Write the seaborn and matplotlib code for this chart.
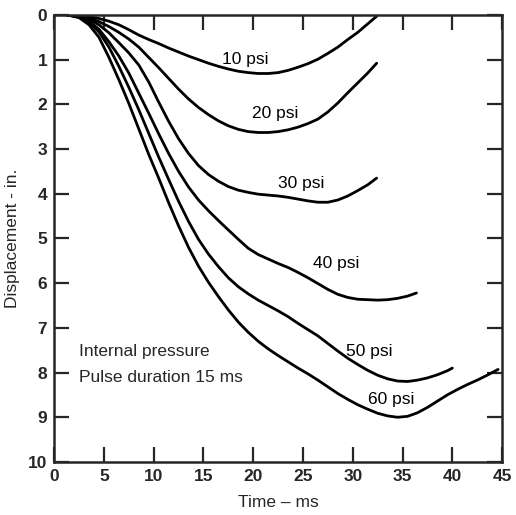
import pandas as pd
import matplotlib
matplotlib.use("Agg")
import matplotlib.pyplot as plt
import seaborn as sns

# Curvas (tempo em ms, deslocamento em polegadas)
t_10 = [1.3, 2.5, 3.5, 4.5, 5.5, 6.5, 7.5, 8.5, 9.5, 10.5, 11.5, 12.5, 13.5, 14.5, 15.5, 16.5,
        17.5, 18.5, 19.5, 20.5, 21.5, 22.5, 23.5, 24.5, 25.5, 26.5, 27.5, 28.5, 29.5, 30.5, 31.5, 32.4]
d_10 = [0, 0.01, 0.04, 0.08, 0.14, 0.22, 0.33, 0.45, 0.55, 0.64, 0.74, 0.83, 0.92, 1.0, 1.08, 1.15,
        1.21, 1.26, 1.29, 1.31, 1.31, 1.29, 1.24, 1.17, 1.09, 0.99, 0.86, 0.72, 0.55, 0.39, 0.2, 0.03]

t_20 = [1.3, 2.5, 3.5, 4.5, 5.5, 6.5, 7.5, 8.5, 9.5, 10.5, 11.5, 12.5, 13.5, 14.5, 15.5, 16.5,
        17.5, 18.5, 19.5, 20.5, 21.5, 22.5, 23.5, 24.5, 25.5, 26.5, 27.5, 28.5, 29.5, 30.5, 31.5, 32.4]
d_20 = [0, 0.02, 0.07, 0.15, 0.26, 0.39, 0.54, 0.72, 0.95, 1.18, 1.42, 1.66, 1.88, 2.07, 2.23, 2.37,
        2.48, 2.56, 2.61, 2.63, 2.63, 2.61, 2.57, 2.51, 2.43, 2.33, 2.17, 1.97, 1.74, 1.52, 1.3, 1.08]

t_30 = [1.3, 2.5, 3.5, 4.5, 5.5, 6.5, 7.5, 8.5, 9.5, 10.5, 11.5, 12.5, 13.5, 14.5, 15.5, 16.5,
        17.5, 18.5, 19.5, 20.5, 21.5, 22.5, 23.5, 24.5, 25.5, 26.5, 27.5, 28.5, 29.5, 30.5, 31.5, 32.4]
d_30 = [0, 0.03, 0.1, 0.22, 0.4, 0.62, 0.85, 1.12, 1.5, 1.95, 2.38, 2.77, 3.1, 3.37, 3.57, 3.72,
        3.84, 3.92, 3.97, 4.01, 4.03, 4.05, 4.08, 4.12, 4.16, 4.19, 4.19, 4.14, 4.05, 3.93, 3.8, 3.65]

t_40 = [1.3, 2.5, 3.5, 4.5, 5.5, 6.5, 7.5, 8.5, 9.5, 10.5, 11.5, 12.5, 13.5, 14.5, 15.5, 16.5,
        17.5, 18.5, 19.5, 20.5, 21.5, 22.5, 23.5, 24.5, 25.5, 26.5, 27.5, 28.5, 29.5, 30.5, 31.5,
        32.5, 33.5, 34.5, 35.5, 36.4]
d_40 = [0, 0.04, 0.14, 0.32, 0.6, 0.92, 1.3, 1.75, 2.2, 2.66, 3.1, 3.5, 3.85, 4.14, 4.38, 4.6,
        4.81, 5.02, 5.22, 5.36, 5.46, 5.56, 5.65, 5.76, 5.88, 6.01, 6.14, 6.25, 6.32, 6.36, 6.37,
        6.38, 6.37, 6.34, 6.29, 6.22]

t_50 = [1.3, 2.5, 3.5, 4.5, 5.5, 6.5, 7.5, 8.5, 9.5, 10.5, 11.5, 12.5, 13.5, 14.5, 15.5, 16.5,
        17.5, 18.5, 19.5, 20.5, 21.5, 22.5, 23.5, 24.5, 25.5, 26.5, 27.5, 28.5, 29.5, 30.5, 31.5,
        32.5, 33.5, 34.5, 35.5, 36.5, 37.5, 38.5, 39.5, 40]
d_50 = [0, 0.05, 0.17, 0.38, 0.72, 1.15, 1.62, 2.12, 2.65, 3.18, 3.68, 4.17, 4.62, 5.02, 5.35, 5.63,
        5.88, 6.08, 6.24, 6.38, 6.5, 6.62, 6.75, 6.9, 7.04, 7.18, 7.35, 7.52, 7.68, 7.82, 7.95,
        8.06, 8.14, 8.19, 8.2, 8.17, 8.12, 8.05, 7.96, 7.9]

t_60 = [1.3, 2.5, 3.5, 4.5, 5.5, 6.5, 7.5, 8.5, 9.5, 10.5, 11.5, 12.5, 13.5, 14.5, 15.5, 16.5,
        17.5, 18.5, 19.5, 20.5, 21.5, 22.5, 23.5, 24.5, 25.5, 26.5, 27.5, 28.5, 29.5, 30.5, 31.5,
        32.5, 33.5, 34.5, 35.5, 36.5, 37.5, 38.5, 39.5, 40.5, 41.5, 42.5, 43.5, 44.6]
d_60 = [0, 0.06, 0.22, 0.5, 0.95, 1.45, 1.98, 2.55, 3.12, 3.65, 4.2, 4.72, 5.2, 5.62, 5.98, 6.3,
        6.6, 6.87, 7.1, 7.3, 7.47, 7.62, 7.76, 7.9, 8.03, 8.17, 8.32, 8.47, 8.6, 8.72, 8.82,
        8.91, 8.97, 9.0, 8.98, 8.9, 8.78, 8.64, 8.5, 8.38, 8.27, 8.17, 8.06, 7.93]

pressures = ["10 psi", "20 psi", "30 psi", "40 psi", "50 psi", "60 psi"]
times = [t_10, t_20, t_30, t_40, t_50, t_60]
disps = [d_10, d_20, d_30, d_40, d_50, d_60]

# posição dos rótulos (tempo, deslocamento)
label_t = [19.2, 22.2, 24.8, 28.3, 31.7, 33.9]
label_d = [0.99, 2.2, 3.77, 5.55, 7.54, 8.6]

df = pd.concat(
    [pd.DataFrame({"time": t, "disp": d, "pressure": p}) for p, t, d in zip(pressures, times, disps)],
    ignore_index=True,
)

sns.set_style("ticks")
plt.rcParams["font.family"] = ["Liberation Sans", "DejaVu Sans"]

fig = plt.figure(figsize=(5.16, 5.15), dpi=100)
ax = fig.add_axes([0.105, 0.103, 0.868, 0.868])

sns.lineplot(data=df, x="time", y="disp", units="pressure", estimator=None, sort=False,
             color="black", linewidth=2.0, ax=ax, legend=False)

for p, lt, ld in zip(pressures, label_t, label_d):
    ax.text(lt, ld, p, fontsize=12.5, ha="center", va="center", color="black")

ax.text(2.5, 7.54, "Internal pressure", fontsize=12.5, ha="left", va="center")
ax.text(2.5, 8.1, "Pulse duration 15 ms", fontsize=12.5, ha="left", va="center")

ax.set_xlim(0, 45)
ax.set_ylim(10, 0)
ax.set_xticks(range(0, 46, 5))
ax.set_yticks(range(0, 11, 1))
ax.tick_params(direction="in", length=11, width=1.6, top=True, right=True,
               labelsize=12.5, pad=5)
for lab in ax.get_xticklabels() + ax.get_yticklabels():
    lab.set_fontweight("bold")
for s in ax.spines.values():
    s.set_linewidth(1.8)

ax.set_xlabel("Time \u2013 ms", fontsize=12.5, labelpad=8)
ax.set_ylabel("Displacement - in.", fontsize=12.5, labelpad=6)

plt.savefig("out.png", dpi=100)
